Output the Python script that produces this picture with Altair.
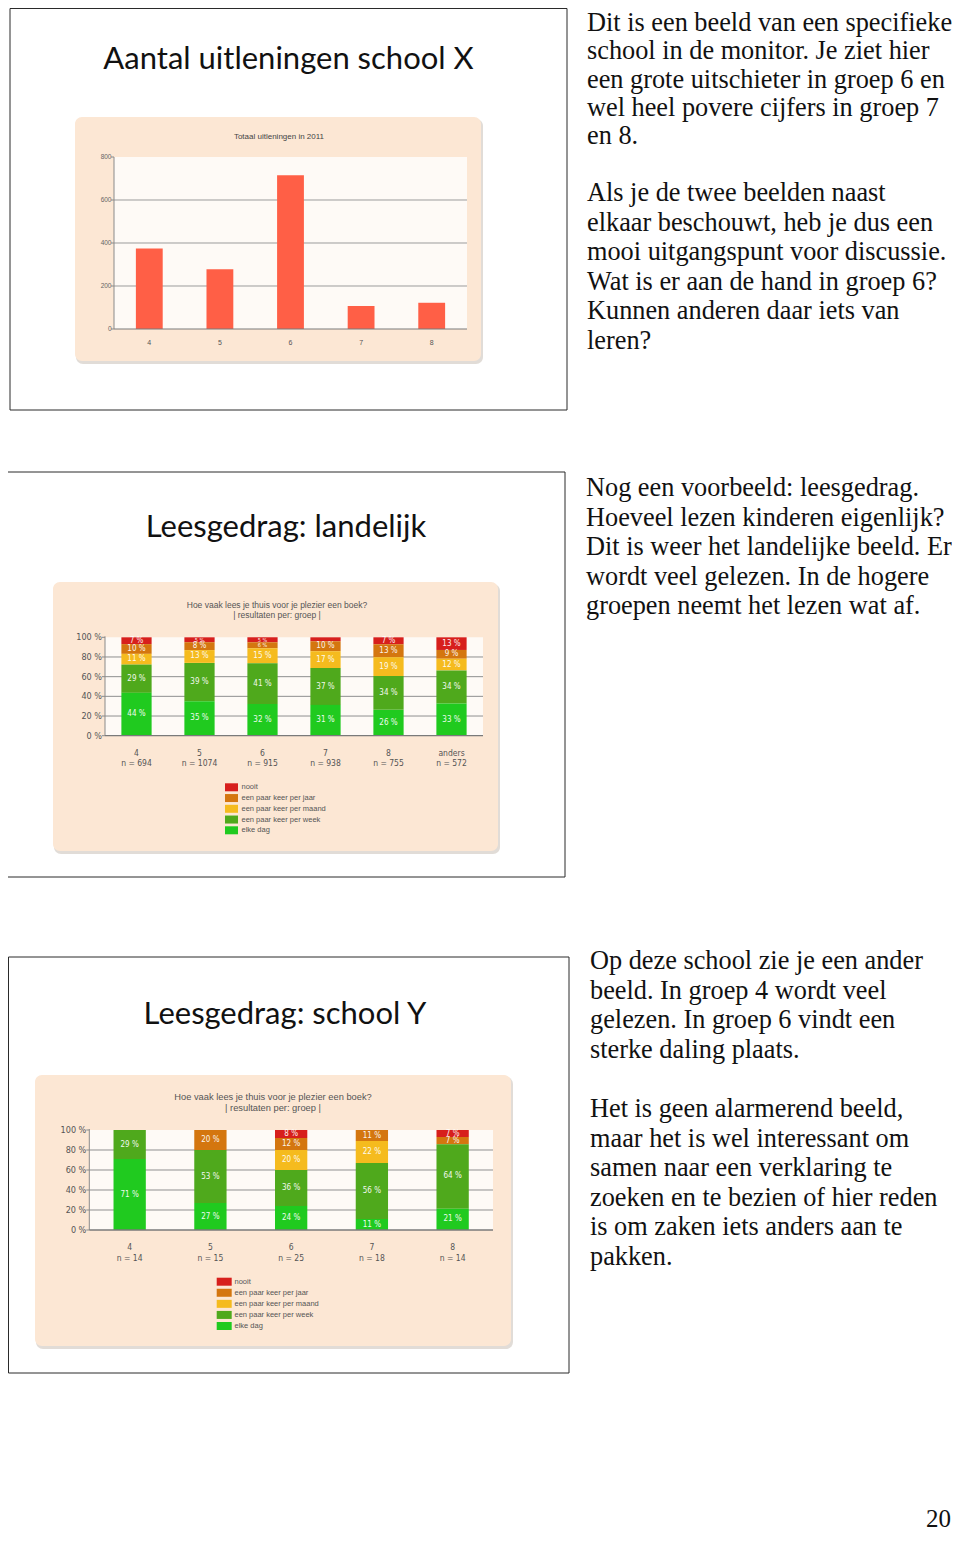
import altair as alt
import pandas as pd

M = 8  # page margin of the html body

# ---------------- text content ----------------
slide_titles = ["Aantal uitleningen school X", "Leesgedrag: landelijk", "Leesgedrag: school Y"]
chart1_title = "Totaal uitleningen in 2011"
question = ["Hoe vaak lees je thuis voor je plezier een boek?", "| resultaten per: groep |"]

para1 = ["Dit is een beeld van een specifieke", "school in de monitor. Je ziet hier",
         "een grote uitschieter in groep 6 en", "wel heel povere cijfers in groep 7", "en 8."]
para2 = ["Als je de twee beelden naast", "elkaar beschouwt, heb je dus een",
         "mooi uitgangspunt voor discussie.", "Wat is er aan de hand in groep 6?",
         "Kunnen anderen daar iets van", "leren?"]
para3 = ["Nog een voorbeeld: leesgedrag.", "Hoeveel lezen kinderen eigenlijk?",
         "Dit is weer het landelijke beeld. Er", "wordt veel gelezen. In de hogere",
         "groepen neemt het lezen wat af."]
para4 = ["Op deze school zie je een ander", "beeld. In groep 4 wordt veel",
         "gelezen. In groep 6 vindt een", "sterke daling plaats."]
para5 = ["Het is geen alarmerend beeld,", "maar het is wel interessant om",
         "samen naar een verklaring te", "zoeken en te bezien of hier reden",
         "is om zaken iets anders aan te", "pakken."]
page_number = "20"

# ---------------- chart data ----------------
groups1 = ["4", "5", "6", "7", "8"]
loans1 = [375, 278, 715, 107, 122]
ticks1 = [0, 200, 400, 600, 800]

cats = ["nooit", "een paar keer per jaar", "een paar keer per maand",
        "een paar keer per week", "elke dag"]
cat_colors = ["#D71F1C", "#D4760F", "#F5BB1E", "#4FA91C", "#20CA1F"]
stack_rank = [4, 3, 2, 1, 0]  # elke dag at the bottom

groups2 = ["4", "5", "6", "7", "8", "anders"]
n2 = ["n = 694", "n = 1074", "n = 915", "n = 938", "n = 755", "n = 572"]
nat_elke = [44, 35, 32, 31, 26, 33]
nat_week = [29, 39, 41, 37, 34, 34]
nat_maand = [11, 13, 15, 17, 19, 12]
nat_jaar = [10, 8, 6, 10, 13, 9]
nat_nooit = [7, 5, 5, 4, 7, 13]

groups3 = ["4", "5", "6", "7", "8"]
n3 = ["n = 14", "n = 15", "n = 25", "n = 18", "n = 14"]
y_elke = [71, 27, 24, 11, 21]
y_week = [29, 53, 36, 56, 64]
y_maand = [0, 0, 20, 22, 0]
y_jaar = [0, 20, 12, 11, 7]
y_nooit = [0, 0, 8, 0, 7]

pct_ticks = [0, 20, 40, 60, 80, 100]

# ---------------- helpers ----------------
one = pd.DataFrame({"d": [0]})
NARROW = "Liberation Sans Narrow, DejaVu Sans Condensed, Arial Narrow, sans-serif"
SANS = "Liberation Sans, Arial, sans-serif"


def rect(x1, y1, x2, y2, **kw):
    return alt.Chart(one).mark_rect(**kw).encode(
        x=alt.value(x1 - M), x2=alt.value(x2 - M), y=alt.value(y1 - M), y2=alt.value(y2 - M))


def rule(x1, y1, x2, y2, **kw):
    return alt.Chart(one).mark_rule(**kw).encode(
        x=alt.value(x1 - M), x2=alt.value(x2 - M), y=alt.value(y1 - M), y2=alt.value(y2 - M))


def txt(x, y, text, **kw):
    return alt.Chart(one).mark_text(**kw).encode(
        x=alt.value(x - M), y=alt.value(y - M), text=alt.value(text))


def long_df(groups, ns, series):
    rows = []
    for gi, g in enumerate(groups):
        for ci, c in enumerate(cats):
            v = series[ci][gi]
            if v > 0:
                rows.append({"grp": g, "n": ns[gi], "cat": c, "k": stack_rank[ci], "value": v})
    return pd.DataFrame(rows)


cscale = alt.Scale(domain=cats, range=cat_colors)
layers = []

# ---------------- slide frames & titles ----------------
frames = [(10, 8.5, 567, 410), (6, 472, 565, 877), (8.5, 957, 569, 1373)]
for (x1, y1, x2, y2) in frames:
    layers.append(rect(x1, y1, x2, y2, filled=False, stroke="#2a2a2a", strokeWidth=1))

title_pos = [(288.5, 69), (286, 537), (285, 1024)]
for t, (x, y) in zip(slide_titles, title_pos):
    layers.append(txt(x, y, t, font="Lato", fontSize=31, align="center",
                      baseline="alphabetic", color="#111111"))

# beige panels with shadows
panels = [(75, 117, 481, 361), (53, 582, 498, 851), (35, 1075, 511, 1346)]
for (x1, y1, x2, y2) in panels:
    layers.append(rect(x1 + 1, y1 + 2, x2 + 2, y2 + 3, fill="#D9D3CD", cornerRadius=7, opacity=0.8))
    layers.append(rect(x1, y1, x2, y2, fill="#FCE7D4", cornerRadius=7))

# ---------------- slide 1: bar chart ----------------
P1 = dict(left=114, right=467, top=157, bottom=329)
xs1 = alt.Scale(domain=groups1, range=[P1["left"] - M, P1["right"] - M], paddingInner=0.62, paddingOuter=0.31)
ys1 = alt.Scale(domain=[0, 800], range=[P1["bottom"] - M, P1["top"] - M], nice=False)
df1 = pd.DataFrame({"grp": groups1, "val": loans1})
dt1 = pd.DataFrame({"t": ticks1})

layers.append(rect(P1["left"], P1["top"], P1["right"], P1["bottom"], fill="#FEFAF6"))
layers.append(alt.Chart(dt1).transform_filter("datum.t > 0 && datum.t < 800").mark_rule(
    color="#9b9b9b", strokeWidth=1).encode(
    y=alt.Y("t:Q", scale=ys1, axis=None), x=alt.value(P1["left"] - M), x2=alt.value(P1["right"] - M)))
layers.append(alt.Chart(dt1).mark_rule(color="#8a8a8a", strokeWidth=1).encode(
    y=alt.Y("t:Q", scale=ys1, axis=None), x=alt.value(P1["left"] - 3 - M), x2=alt.value(P1["left"] - M)))
layers.append(alt.Chart(dt1).mark_text(font=SANS, fontSize=6.5, color="#666666", align="right",
                                       baseline="middle").encode(
    y=alt.Y("t:Q", scale=ys1, axis=None), x=alt.value(P1["left"] - 2.5 - M), text="t:Q"))
layers.append(rule(P1["left"], P1["top"], P1["left"], P1["bottom"], color="#8a8a8a", strokeWidth=1))
layers.append(alt.Chart(df1).mark_bar(color="#FF5F46").encode(
    x=alt.X("grp:N", scale=xs1, axis=None), y=alt.Y("val:Q", scale=ys1, axis=None)))
layers.append(rule(P1["left"], P1["bottom"], P1["right"], P1["bottom"], color="#7a7a7a", strokeWidth=1.2))
layers.append(alt.Chart(df1).mark_text(font=SANS, fontSize=7, color="#555555", baseline="middle").encode(
    x=alt.X("grp:N", scale=xs1, axis=None), y=alt.value(343.3 - M), text="grp:N"))
layers.append(txt(279, 137.3, chart1_title, font=SANS, fontSize=8, color="#444444",
                  align="center", baseline="middle"))


# ---------------- stacked percentage charts ----------------
def stacked_chart(df, groups, P, pad_in, pad_out, title_x, title_ys, title_size,
                  xlab_ys, leg_sw, leg_ys, leg_label_x):
    xs = alt.Scale(domain=groups, range=[P["left"] - M, P["right"] - M],
                   paddingInner=pad_in, paddingOuter=pad_out)
    ys = alt.Scale(domain=[0, 1], range=[P["bottom"] - M, P["top"] - M], nice=False)
    out = []
    out.append(rect(P["left"], P["top"], P["right"], P["bottom"], fill="#FEFAF6"))
    dt = pd.DataFrame({"t": pct_ticks})
    tbase = alt.Chart(dt).transform_calculate(p="datum.t / 100", lbl="datum.t + ' %'")
    out.append(tbase.transform_filter("datum.t > 0 && datum.t < 100").mark_rule(
        color="#8f8f8f", strokeWidth=1).encode(
        y=alt.Y("p:Q", scale=ys, axis=None), x=alt.value(P["left"] - M), x2=alt.value(P["right"] - M)))
    out.append(tbase.mark_rule(color="#8a8a8a", strokeWidth=1).encode(
        y=alt.Y("p:Q", scale=ys, axis=None), x=alt.value(P["left"] - 3 - M), x2=alt.value(P["left"] - M)))
    out.append(tbase.mark_text(font=NARROW, fontSize=9, color="#555555", align="right",
                               baseline="middle").encode(
        y=alt.Y("p:Q", scale=ys, axis=None), x=alt.value(P["left"] - 3 - M), text="lbl:N"))
    out.append(rule(P["left"], P["top"] - 1, P["left"], P["bottom"], color="#8a8a8a", strokeWidth=1))

    base = alt.Chart(df).transform_stack(
        stack="value", groupby=["grp"], as_=["v0", "v1"], offset="normalize",
        sort=[alt.SortField("k", order="ascending")]
    ).transform_calculate(mid="(datum.v0 + datum.v1) / 2", lbl="datum.value + ' %'")
    out.append(base.mark_bar().encode(
        x=alt.X("grp:N", scale=xs, axis=None),
        y=alt.Y("v0:Q", scale=ys, axis=None), y2="v1:Q",
        color=alt.Color("cat:N", scale=cscale, legend=None)))
    out.append(base.transform_filter("datum.value >= 5").mark_text(
        font=NARROW, color="#FFFFFF", opacity=0.92, baseline="middle").encode(
        x=alt.X("grp:N", scale=xs, axis=None),
        y=alt.Y("mid:Q", scale=ys, axis=None), text="lbl:N",
        size=alt.condition("datum.value < 7", alt.value(5.5), alt.value(8))))
    out.append(rule(P["left"], P["bottom"], P["right"], P["bottom"], color="#7a7a7a", strokeWidth=1.3))

    # x labels (group and n)
    dg = df.drop_duplicates("grp")[["grp", "n"]]
    out.append(alt.Chart(dg).mark_text(font=NARROW, fontSize=8.5, color="#555555",
                                       baseline="middle").encode(
        x=alt.X("grp:N", scale=xs, axis=None), y=alt.value(xlab_ys[0] - M), text="grp:N"))
    out.append(alt.Chart(dg).mark_text(font=NARROW, fontSize=8.5, color="#555555",
                                       baseline="middle").encode(
        x=alt.X("grp:N", scale=xs, axis=None), y=alt.value(xlab_ys[1] - M), text="n:N"))

    # chart title
    for line, ty in zip(question, title_ys):
        out.append(txt(title_x, ty, line, font=SANS, fontSize=title_size, color="#555555",
                       align="center", baseline="middle"))

    # legend
    dl = pd.DataFrame({"cat": cats})
    lys = alt.Scale(type="point", domain=cats, range=[leg_ys[0] - M, leg_ys[1] - M], padding=0)
    sw_x, sw_half = leg_sw
    hw = sw_half / 4.0
    path = f"M{-hw},-1L{hw},-1L{hw},1L{-hw},1Z"
    out.append(alt.Chart(dl).mark_point(shape=path, size=64, filled=True, opacity=1,
                                        strokeWidth=0).encode(
        y=alt.Y("cat:N", scale=lys, axis=None), x=alt.value(sw_x - M),
        color=alt.Color("cat:N", scale=cscale, legend=None)))
    out.append(alt.Chart(dl).mark_text(font=SANS, fontSize=7.5, color="#555555", align="left",
                                       baseline="middle").encode(
        y=alt.Y("cat:N", scale=lys, axis=None), x=alt.value(leg_label_x - M), text="cat:N"))
    return out


df2 = long_df(groups2, n2, [nat_nooit, nat_jaar, nat_maand, nat_week, nat_elke])
layers += stacked_chart(df2, groups2, dict(left=105, right=483, top=637.3, bottom=735.7),
                        0.52, 0.26, 277, (604.5, 615.3), 8.5, (752.7, 763.3),
                        (231.5, 6.5), (787.3, 830.3), 241.5)

df3 = long_df(groups3, n3, [y_nooit, y_jaar, y_maand, y_week, y_elke])
layers += stacked_chart(df3, groups3, dict(left=89.3, right=493, top=1130, bottom=1230),
                        0.6, 0.3, 273, (1096.7, 1108.3), 9.3, (1247.3, 1257.7),
                        (224.2, 7.5), (1281.7, 1326), 234.5)

# ---------------- right-hand column text ----------------
SERIF = "Liberation Serif, Times New Roman, serif"
for lines, x, y, lh in [(para1, 587, 31, 28.3), (para2, 587, 201, 29.6), (para3, 586, 496, 29.6),
                        (para4, 590, 969, 29.6), (para5, 590, 1117, 29.6)]:
    layers.append(txt(x, y, lines, font=SERIF, fontSize=26.3, lineHeight=lh, align="left",
                      baseline="alphabetic", color="#111111"))

layers.append(txt(951, 1527, page_number, font=SERIF, fontSize=25, align="right",
                  baseline="alphabetic", color="#111111"))

chart = alt.layer(*layers).resolve_scale(
    x="independent", y="independent", color="independent"
).properties(
    width=944, height=1525, autosize=alt.AutoSizeParams(type="none"), padding=0,
    background="white"
).configure_view(stroke=None)

chart.save("out.html", embed_options={"renderer": "svg", "actions": False})
